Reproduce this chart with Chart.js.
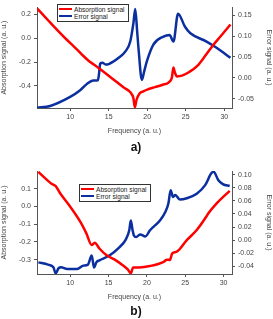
<!DOCTYPE html>
<html>
<head>
<meta charset="utf-8">
<script src="https://cdn.jsdelivr.net/npm/chart.js@4"></script>
<style>
    body { margin: 0; background: #fff; font-family: "Liberation Sans", Arial, sans-serif; }
    #wrap { position: relative; width: 273px; height: 319px; overflow: hidden; }
    canvas { position: absolute; left: 0; }
    .legend {
        position: absolute; border: 1px solid #333; background: #fff;
        font-size: 6.6px; color: #222; line-height: 7px; padding: 1px 1px; box-sizing: border-box;
    }
    .legend div { height: 7px; white-space: nowrap; }
    .legend span.line { display: inline-block; width: 13px; height: 2px; vertical-align: middle; margin-right: 2px; margin-top: -2px; }
    .tag { position: absolute; font-size: 12px; font-weight: bold; color: #111; width: 30px; text-align: center; }
</style>
</head>
<body>
<div id="wrap">
    <canvas id="chart-a" width="273" height="135" style="top:0"></canvas>
    <canvas id="chart-b" width="273" height="141" style="top:160px"></canvas>
    <div class="legend" style="left:57px; top:4px; width:72px; height:18px;">
        <div><span class="line" style="background:#ff0000"></span>Absorption signal</div>
        <div><span class="line" style="background:#0b2f9f"></span>Error signal</div>
    </div>
    <div class="legend" style="left:79px; top:184px; width:72px; height:18px;">
        <div><span class="line" style="background:#ff0000"></span>Absorption signal</div>
        <div><span class="line" style="background:#0b2f9f"></span>Error signal</div>
    </div>
    <div class="tag" style="left:121px; top:140px;">a)</div>
    <div class="tag" style="left:121px; top:304px;">b)</div>
</div>
<script>
// Panel a) data
const aFreqAbs = [5.7, 7, 8, 9.35, 10.5, 11.5, 12.6, 13.3, 14, 15, 16, 17, 17.6, 18.0, 18.2, 18.4, 18.6, 19.0, 19.5, 20, 21, 22, 22.8, 23.2, 23.4, 23.6, 23.85, 24.5, 25.5, 26.5, 27.5, 28.6, 29.5, 30.8];
const aAbsorption = [0.25, 0.16, 0.09, 0.0, -0.07, -0.135, -0.2, -0.23, -0.265, -0.315, -0.365, -0.415, -0.44, -0.47, -0.5, -0.58, -0.52, -0.464, -0.445, -0.431, -0.41, -0.39, -0.37, -0.33, -0.246, -0.29, -0.32, -0.314, -0.281, -0.232, -0.15, -0.054, 0.014, 0.115];
const aFreqErr = [5.7, 7.4, 10, 11.3, 12.2, 13.0, 13.6, 13.75, 13.9, 14.2, 14.6, 15, 16.3, 17.2, 17.8, 18.2, 18.45, 18.7, 18.9, 19.3, 19.6, 19.96, 20.8, 22.1, 22.9, 23.4, 24.0, 24.9, 25.6, 27.7, 29.0, 30.8];
const aError = [-0.072, -0.0676, -0.046, -0.030, -0.0143, -0.0065, -0.006, 0.01, 0.034, 0.036, 0.032, 0.033, 0.048, 0.064, 0.087, 0.13, 0.165, 0.11, 0.064, -0.005, 0.015, 0.04, 0.0796, 0.099, 0.103, 0.087, 0.154, 0.1225, 0.107, 0.087, 0.072, 0.048];
const aLeftTicks = [0.2, 0.0, -0.2, -0.4];
const aRightTicks = [0.15, 0.10, 0.05, 0.00, -0.05];

// Panel b) data
const bFreqAbs = [5.84, 7.5, 7.9, 8.1, 8.7, 10, 11.3, 12.1, 12.8, 13.2, 13.8, 14.7, 15.8, 16.8, 17.5, 17.9, 18.2, 19, 20.4, 22.2, 22.6, 23.0, 23.3, 23.9, 25.2, 26.5, 27.8, 28.0, 29.1, 30.8];
const bAbsorption = [0.195, 0.13, 0.12, 0.115, 0.073, -0.002, -0.086, -0.152, -0.218, -0.205, -0.237, -0.274, -0.30, -0.33, -0.355, -0.377, -0.344, -0.344, -0.336, -0.312, -0.30, -0.302, -0.265, -0.255, -0.19, -0.133, -0.054, -0.04, 0.017, 0.088];
const bFreqErr = [5.84, 7.1, 7.8, 8.1, 8.5, 8.8, 9.6, 10.9, 11.7, 12.3, 12.8, 13.1, 13.4, 13.8, 15.1, 16.4, 17.2, 17.7, 17.9, 18.1, 18.3, 18.6, 19.1, 19.8, 20.4, 21.7, 22.4, 22.8, 23.1, 23.4, 23.7, 24.3, 25.2, 26.5, 27.6, 28.4, 28.7, 29.3, 29.9, 30.8];
const bError = [-0.034, -0.0375, -0.0416, -0.0508, -0.0426, -0.0416, -0.044, -0.044, -0.039, -0.0375, -0.0236, -0.042, -0.034, -0.031, -0.0236, -0.011, 0.0, 0.015, 0.03, 0.017, 0.007, 0.0046, 0.0087, 0.0056, 0.015, 0.030, 0.043, 0.056, 0.076, 0.066, 0.069, 0.062, 0.064, 0.071, 0.084, 0.102, 0.1046, 0.092, 0.0856, 0.0826];
const bLeftTicks = [0.1, 0.0, -0.1, -0.2, -0.3];
const bRightTicks = [0.10, 0.08, 0.06, 0.04, 0.02, 0.00, -0.02, -0.04];

const freqTicks = [10, 15, 20, 25, 30];

const RED = "#ff0000";
const BLUE = "#0b2f9f";
const AXIS = "#555";
const tickFont = { family: "'Liberation Sans', Arial, sans-serif", size: 7 };

function toPoints(xs, ys) {
    return xs.map((x, i) => ({ x: x, y: ys[i] }));
}

function fixedTicks(values) {
    return (axis) => {
        axis.ticks = values.map(v => ({ value: v }));
    };
}

function createPanel(id, opts) {
    const ctx = document.getElementById(id).getContext("2d");

    return new Chart(ctx, {
        type: "line",
        data: {
            datasets: [{
                label: "Absorption signal",
                data: toPoints(opts.absX, opts.absY),
                borderColor: RED,
                borderWidth: 2.5,
                pointRadius: 0,
                cubicInterpolationMode: "monotone",
                yAxisID: "yL"
            }, {
                label: "Error signal",
                data: toPoints(opts.errX, opts.errY),
                borderColor: BLUE,
                borderWidth: 2.5,
                pointRadius: 0,
                cubicInterpolationMode: "monotone",
                yAxisID: "yR"
            }]
        },
        options: {
            responsive: false,
            animation: false,
            layout: { padding: { top: opts.padTop, bottom: 0, left: 0, right: 0 } },
            plugins: {
                legend: { display: false },
                tooltip: { enabled: false }
            },
            scales: {
                x: {
                    type: "linear",
                    min: opts.xMin,
                    max: opts.xMax,
                    afterBuildTicks: fixedTicks(freqTicks),
                    afterFit: (axis) => { axis.height = 27; },
                    border: { color: AXIS, width: 1 },
                    grid: { drawOnChartArea: false, tickLength: 3, color: AXIS },
                    ticks: { font: tickFont, color: "#444", padding: 2, maxRotation: 0 },
                    title: {
                        display: true,
                        text: "Frequency (a. u.)",
                        font: tickFont,
                        color: "#444",
                        padding: { top: 1, bottom: 0 }
                    }
                },
                yL: {
                    position: "left",
                    min: opts.leftMin,
                    max: opts.leftMax,
                    afterBuildTicks: fixedTicks(opts.leftTicks),
                    afterFit: (axis) => { axis.width = 37; },
                    border: { color: AXIS, width: 1 },
                    grid: { drawOnChartArea: false, tickLength: 3, color: AXIS },
                    ticks: {
                        font: tickFont,
                        color: "#444",
                        padding: 3,
                        callback: (v) => Number(v).toFixed(1)
                    },
                    title: {
                        display: true,
                        text: "Absorption signal (a. u.)",
                        font: tickFont,
                        color: "#444",
                        padding: { top: 0, bottom: 0 }
                    }
                },
                yR: {
                    position: "right",
                    min: opts.rightMin,
                    max: opts.rightMax,
                    afterBuildTicks: fixedTicks(opts.rightTicks),
                    afterFit: (axis) => { axis.width = 41; },
                    border: { color: AXIS, width: 1 },
                    grid: { drawOnChartArea: false, tickLength: 3, color: AXIS },
                    ticks: {
                        font: tickFont,
                        color: "#444",
                        padding: 3,
                        callback: (v) => Number(v).toFixed(2)
                    },
                    title: {
                        display: true,
                        text: "Error signal (a. u.)",
                        font: tickFont,
                        color: "#444",
                        padding: { top: 0, bottom: 2 }
                    }
                }
            }
        }
    });
}

// Panel a)
createPanel("chart-a", {
    absX: aFreqAbs, absY: aAbsorption,
    errX: aFreqErr, errY: aError,
    xMin: 5.7, xMax: 31,
    leftMin: -0.585, leftMax: 0.26, leftTicks: aLeftTicks,
    rightMin: -0.0725, rightMax: 0.1695, rightTicks: aRightTicks,
    padTop: 5
});

// Panel b)
createPanel("chart-b", {
    absX: bFreqAbs, absY: bAbsorption,
    errX: bFreqErr, errY: bError,
    xMin: 5.66, xMax: 31.1,
    leftMin: -0.381, leftMax: 0.2, leftTicks: bLeftTicks,
    rightMin: -0.0518, rightMax: 0.1056, rightTicks: bRightTicks,
    padTop: 11
});
</script>
</body>
</html>
